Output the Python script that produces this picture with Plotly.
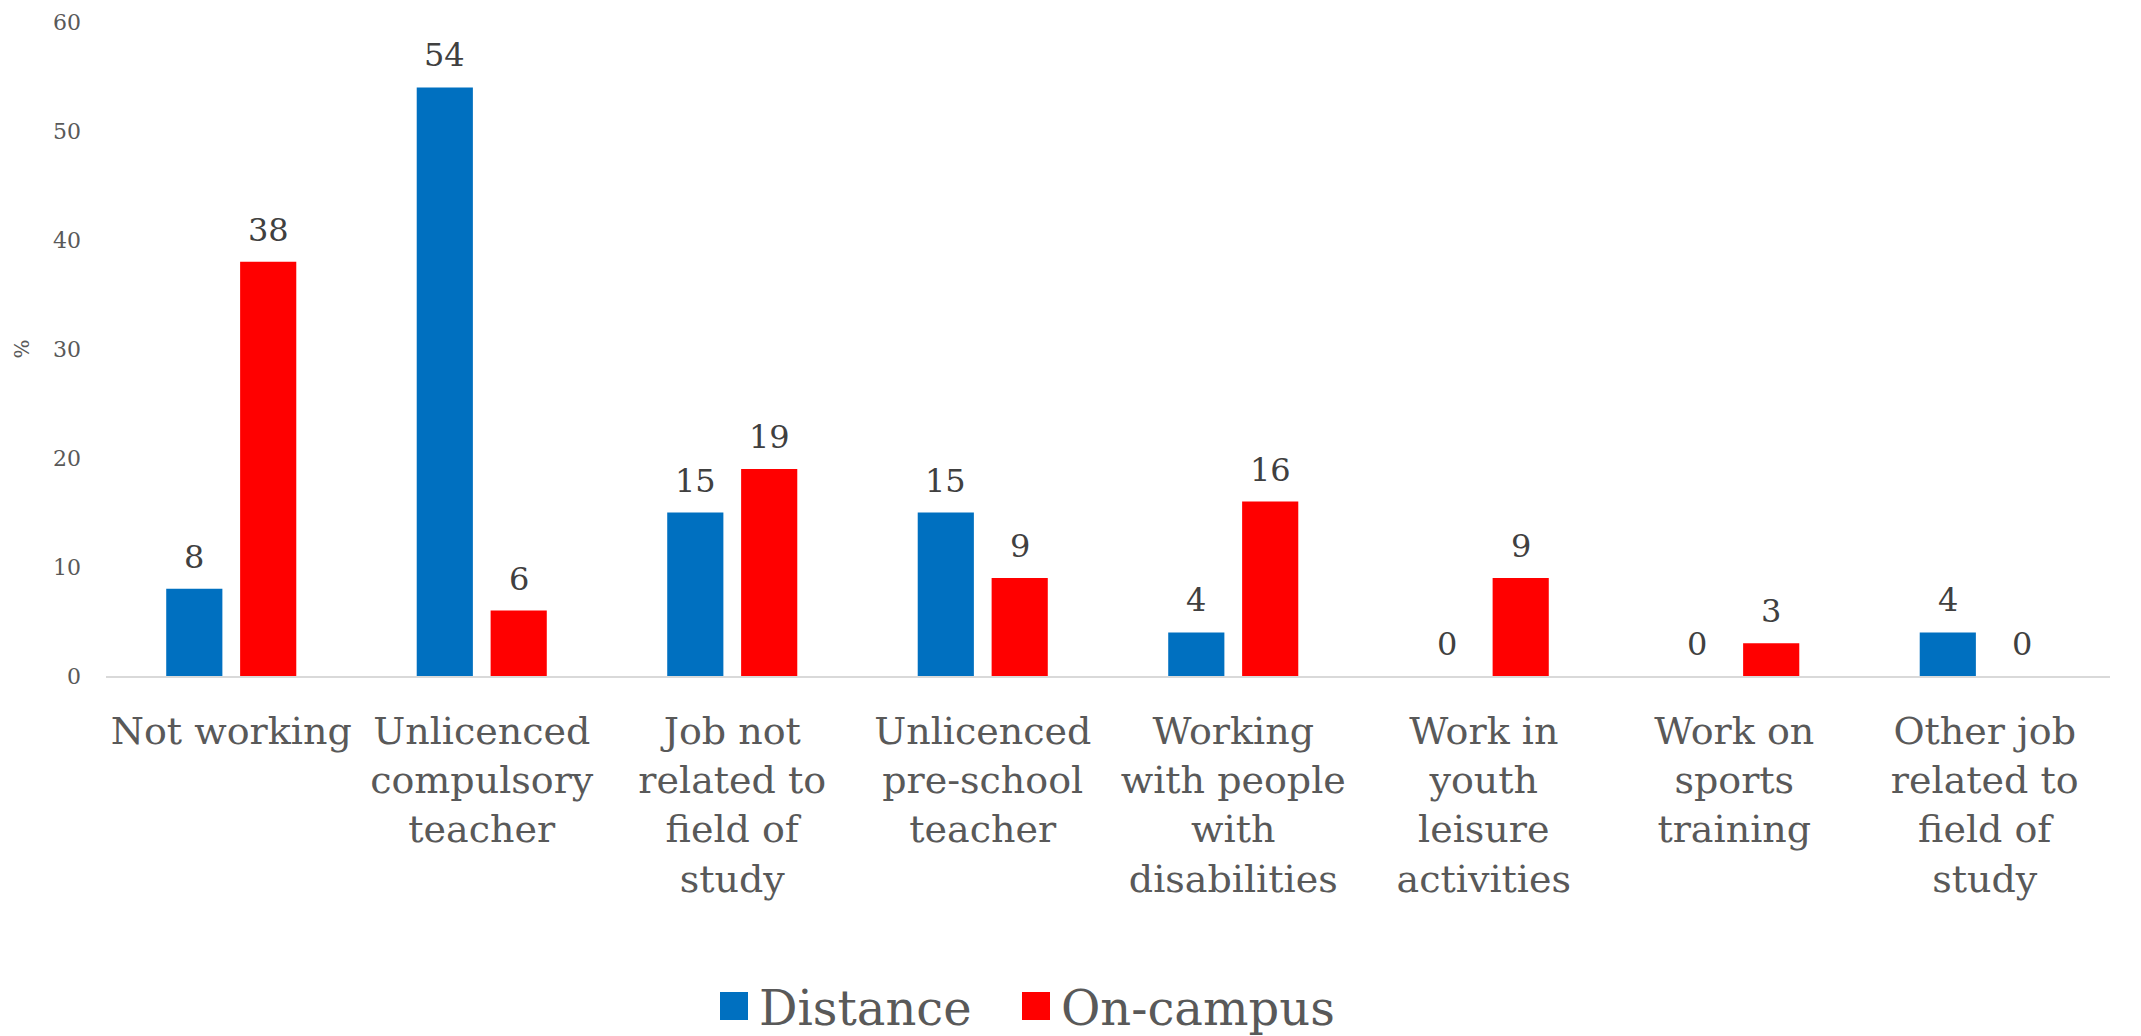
import plotly.graph_objects as go

# Employment situation of graduates, by mode of study (%)
categories = [
    "Not working",
    "Unlicenced<br>compulsory<br>teacher",
    "Job not<br>related to<br>field of<br>study",
    "Unlicenced<br>pre-school<br>teacher",
    "Working<br>with people<br>with<br>disabilities",
    "Work in<br>youth<br>leisure<br>activities",
    "Work on<br>sports<br>training",
    "Other job<br>related to<br>field of<br>study",
]
distance = [8, 54, 15, 15, 4, 0, 0, 4]
on_campus = [38, 6, 19, 9, 16, 9, 3, 0]

series = [("Distance", distance, "#0070C0"), ("On-campus", on_campus, "#FF0000")]

FONT = "DejaVu Serif"
LABEL_GREY = "#595959"
VALUE_GREY = "#404040"
BARGAP = 0.41
GROUPGAP = 0.24

# plot-area geometry in pixels (used to place the legend below the axis)
W, H = 2141, 1036
ML, MR, MT, MB = 106, 31, 22, 360
PW, PH = W - ML - MR, H - MT - MB


def px_to_paper_x(px):
    return (px - ML) / PW


def px_to_paper_y(py):
    return (H - MB - py) / PH


fig = go.Figure()
for name, vals, color in series:
    fig.add_trace(go.Bar(
        name=name,
        x=list(range(len(categories))),
        y=vals,
        marker=dict(color=color, line=dict(width=0)),
        showlegend=False,
    ))

# value labels above each bar (bar centres sit at +/- a quarter of the group width)
offset = (1 - BARGAP) / 4
for k, (name, vals, color) in enumerate(series):
    sign = -1 if k == 0 else 1
    for i, v in enumerate(vals):
        fig.add_annotation(
            x=i + sign * offset, y=v, xref="x", yref="y",
            text=str(v), showarrow=False, yanchor="bottom", yshift=11,
            font=dict(family=FONT, size=32, color=VALUE_GREY),
        )

# legend: large square swatch followed by the series name
legend_y = 1006
swatch = 28
legend_x = [720, 1022]
for (name, vals, color), x0 in zip(series, legend_x):
    fig.add_shape(
        type="rect", xref="paper", yref="paper",
        x0=px_to_paper_x(x0), x1=px_to_paper_x(x0 + swatch),
        y0=px_to_paper_y(legend_y + swatch / 2), y1=px_to_paper_y(legend_y - swatch / 2),
        fillcolor=color, line=dict(width=0),
    )
    fig.add_annotation(
        x=px_to_paper_x(x0 + swatch + 9), y=px_to_paper_y(legend_y + 2),
        xref="paper", yref="paper", xanchor="left", yanchor="middle",
        text=name, showarrow=False,
        font=dict(family=FONT, size=48, color=LABEL_GREY),
    )

fig.update_layout(
    width=W, height=H,
    paper_bgcolor="white", plot_bgcolor="white",
    barmode="group", bargap=BARGAP, bargroupgap=GROUPGAP,
    margin=dict(l=ML, r=MR, t=MT, b=MB, autoexpand=False),
    font=dict(family=FONT, color=LABEL_GREY),
    showlegend=False,
    xaxis=dict(
        tickmode="array", tickvals=list(range(len(categories))), ticktext=categories,
        range=[-0.5, len(categories) - 0.5], automargin=False,
        tickangle=0, showgrid=False, zeroline=False,
        showline=True, linecolor="#D9D9D9", linewidth=2,
        ticks="", ticklabelstandoff=20,
        tickfont=dict(family=FONT, size=38, color=LABEL_GREY),
    ),
    yaxis=dict(
        range=[0, 60], dtick=10, showgrid=False, zeroline=False, showline=False,
        ticks="", ticklabelstandoff=24, automargin=False,
        tickfont=dict(family=FONT, size=22, color=LABEL_GREY),
        title=dict(text="%", standoff=18, font=dict(family=FONT, size=20, color=LABEL_GREY)),
    ),
)

fig.write_html("out.html")
